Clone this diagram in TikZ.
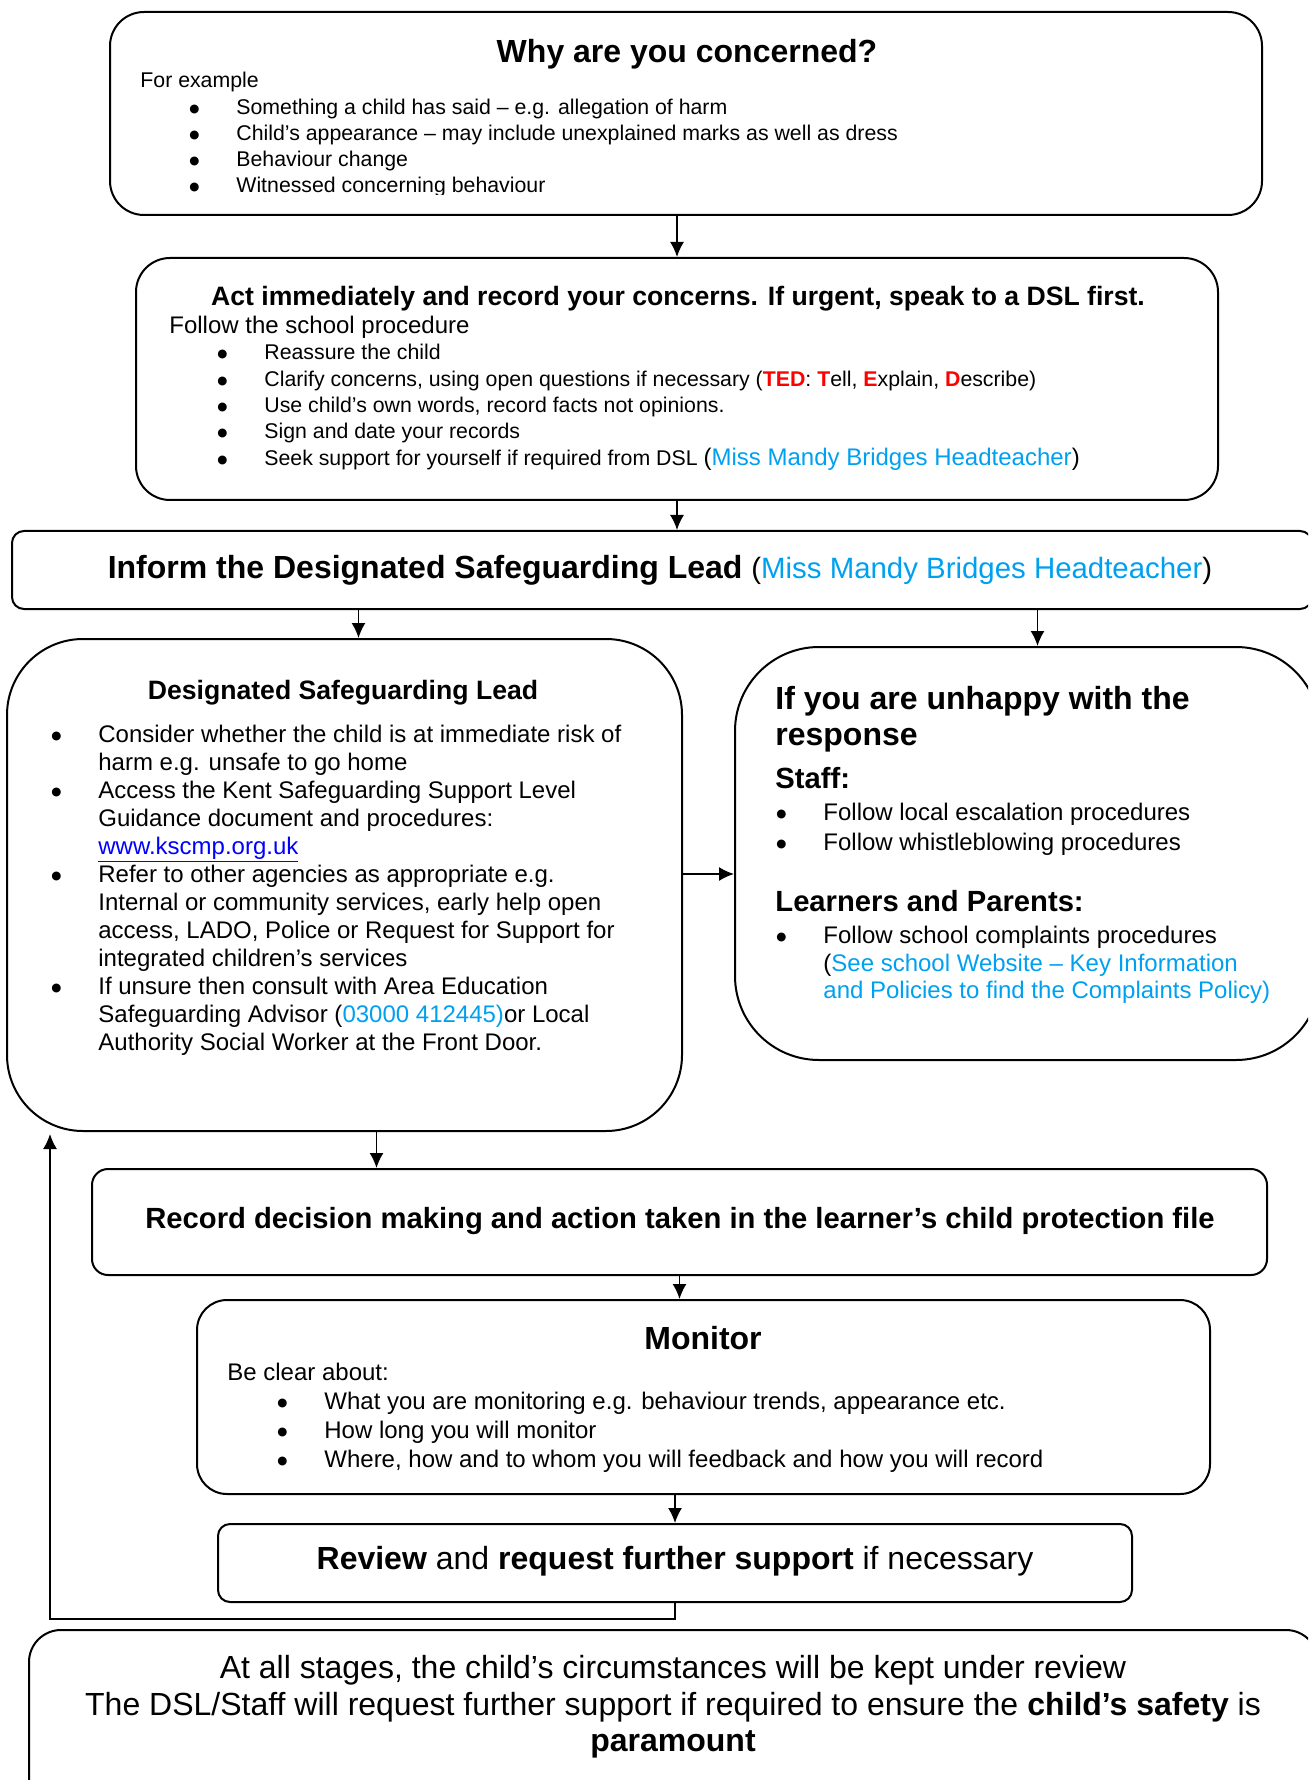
\documentclass[tikz,border=0pt]{standalone}
\usepackage{fontspec}
\setmainfont{Liberation Sans}
\newfontfamily\bulletfont{DejaVu Sans}
\usetikzlibrary{positioning, arrows.meta, fit}
\tikzset{>={Latex[length=7.5pt,width=7pt]}}
\definecolor{infoblue}{RGB}{0,160,240}
\definecolor{tedred}{RGB}{255,0,0}
\definecolor{linkblue}{RGB}{0,0,255}
\newcommand{\ted}[1]{\textcolor{tedred}{\textbf{#1}}}
\newcommand{\info}[1]{\textcolor{infoblue}{#1}}
\newcommand{\bigbullet}{\raisebox{1.4pt}{\bulletfont\fontsize{5.8}{6}\selectfont ●}}

\begin{document}
\begin{tikzpicture}[x=0.5pt,y=-0.5pt,
  box/.style={draw, line width=1pt, inner sep=0pt},
  txt/.style={anchor=base west, inner sep=0pt},
  mid/.style={anchor=base, inner sep=0pt},
  bul/.style={txt, execute at begin node={\makebox[23.5pt][l]{\bigbullet}}},
  arr/.style={->, line width=0.8pt},
  normaltext/.style={font=\fontsize{10.65}{13}\selectfont},
  largetext/.style={font=\fontsize{12}{14}\selectfont},
  bigtext/.style={font=\fontsize{16}{18.5}\selectfont},
  bigtitle/.style={font=\fontsize{16}{18.5}\selectfont\bfseries},
  midtitle/.style={font=\fontsize{13.3}{16}\selectfont\bfseries},
  boldlabel/.style={font=\fontsize{14.6}{17}\selectfont\bfseries}]
\useasboundingbox (0,0) rectangle (1308,1780);
\clip (0,0) rectangle (1308,1780);

% boxes
\node[box, rounded corners=17pt, fit={(110,12) (1262,215)}] (why) {};
\node[box, rounded corners=17pt, fit={(136,258) (1218,500)}] (act) {};
\node[box, rounded corners=6pt, fit={(12,531) (1312,609)}] (inform) {};
\node[box, rounded corners=38pt, fit={(7,639) (682,1131)}] (dsl) {};
\node[box, rounded corners=42pt, fit={(735,647) (1320,1060)}] (unhappy) {};
\node[box, rounded corners=8pt, fit={(92,1169) (1267,1275)}] (record) {};
\node[box, rounded corners=15pt, fit={(197,1300) (1210,1494)}] (monitor) {};
\node[box, rounded corners=6pt, fit={(218,1524) (1132,1602)}] (review) {};
\node[box, rounded corners=16pt, fit={(29,1630) (1318,1810)}] (note) {};

% why are you concerned
\node[mid, bigtitle] (whyt) at (687,63) {Why are you concerned?};
\node[txt, normaltext] (whye) at (140,88) {For example};
\node[bul, normaltext] (why1) at (189,115) {Something a child has said – e.g. allegation of harm};
\node[bul, normaltext] (why2) at (189,141) {Child’s appearance – may include unexplained marks as well as dress};
\node[bul, normaltext] (why3) at (189,167) {Behaviour change};
\begin{scope}
  \clip (0,0) rectangle (1308,195);
  \node[bul, normaltext] (why4) at (189,193) {Witnessed concerning behaviour};
\end{scope}

% act immediately
\node[mid, midtitle] (actt) at (678,306) {Act immediately and record your concerns. If urgent, speak to a DSL first.};
\node[txt, largetext] (actf) at (169,334) {Follow the school procedure};
\node[bul, normaltext] (act1) at (217,360) {Reassure the child};
\node[bul, normaltext] (act2) at (217,387) {Clarify concerns, using open questions if necessary (\ted{TED}: \ted{T}ell, \ted{E}xplain, \ted{D}escribe)};
\node[bul, normaltext] (act3) at (217,413) {Use child’s own words, record facts not opinions.};
\node[bul, normaltext] (act4) at (217,439) {Sign and date your records};
\node[bul, normaltext] (act5) at (217,466) {Seek support for yourself if required from DSL {\fontsize{12}{14}\selectfont(\info{Miss Mandy Bridges Headteacher})}};

% inform
\node[mid, bigtitle] (informt) at (660,578) {Inform the Designated Safeguarding Lead {\fontsize{14.7}{17}\selectfont\mdseries(\info{Miss Mandy Bridges Headteacher})}};

% designated safeguarding lead
\node[mid, midtitle] (dslt) at (343,699) {Designated Safeguarding Lead};
\node[bul, largetext] (dsl1) at (51,742) {Consider whether the child is at immediate risk of};
\node[txt, largetext] (dsl2) at (98,770) {harm e.g. unsafe to go home};
\node[bul, largetext] (dsl3) at (51,798) {Access the Kent Safeguarding Support Level};
\node[txt, largetext] (dsl4) at (98,826) {Guidance document and procedures:};
\node[txt, largetext] (dsl5) at (98,854) {\textcolor{linkblue}{\underline{www.kscmp.org.uk}}};
\node[bul, largetext] (dsl6) at (51,882) {Refer to other agencies as appropriate e.g.};
\node[txt, largetext] (dsl7) at (98,910) {Internal or community services, early help open};
\node[txt, largetext] (dsl8) at (98,938) {access, LADO, Police or Request for Support for};
\node[txt, largetext] (dsl9) at (98,966) {integrated children’s services};
\node[bul, largetext] (dsl10) at (51,994) {If unsure then consult with Area Education};
\node[txt, largetext] (dsl11) at (98,1022) {Safeguarding Advisor (\info{03000 412445)}or Local};
\node[txt, largetext] (dsl12) at (98,1050) {Authority Social Worker at the Front Door.};

% unhappy with the response
\node[txt, bigtitle] (unhappyt) at (775,709) {If you are unhappy with the};
\node[txt, bigtitle] (unhappyr) at (775,745) {response};
\node[txt, boldlabel] (staff) at (775,788) {Staff:};
\node[bul, largetext] (staff1) at (776,820) {Follow local escalation procedures};
\node[bul, largetext] (staff2) at (776,850) {Follow whistleblowing procedures};
\node[txt, boldlabel] (learners) at (775,911) {Learners and Parents:};
\node[bul, largetext] (learners1) at (776,943) {Follow school complaints procedures};
\node[txt, largetext] (learners2) at (823,971) {(\info{See school Website – Key Information}};
\node[txt, largetext] (learners3) at (823,998) {\info{and Policies to find the Complaints Policy)}};

% record
\node[mid, boldlabel] (recordt) at (680,1228) {Record decision making and action taken in the learner’s child protection file};

% monitor
\node[mid, bigtitle] (monitort) at (703,1349) {Monitor};
\node[txt, largetext] (monitorb) at (227,1380) {Be clear about:};
\node[bul, largetext] (monitor1) at (277,1409) {What you are monitoring e.g. behaviour trends, appearance etc.};
\node[bul, largetext] (monitor2) at (277,1438) {How long you will monitor};
\node[bul, largetext] (monitor3) at (277,1467) {Where, how and to whom you will feedback and how you will record};

% review
\node[mid, bigtext] (reviewt) at (675,1569) {\textbf{Review} and \textbf{request further support} if necessary};

% at all stages
\node[mid, bigtext] (note1) at (673,1678) {At all stages, the child’s circumstances will be kept under review};
\node[mid, bigtext] (note2) at (673,1715) {The DSL/Staff will request further support if required to ensure the \textbf{child’s safety} is};
\node[mid, bigtext] (note3) at (673,1751) {\textbf{paramount}};

% arrows
\coordinate (back) at (50,1134);
\draw[arr] (why.south -| act.north) -- (act.north);
\draw[arr] (act.south) -- (act.south |- inform.north);
\draw[arr] ([xshift=7pt]dsl.north |- inform.south) -- ([xshift=7pt]dsl.north);
\draw[arr] ([xshift=5pt]unhappy.north |- inform.south) -- ([xshift=5pt]unhappy.north);
\draw[arr] ([yshift=5.5pt]dsl.east) -- ([yshift=5.5pt]dsl.east -| unhappy.west);
\draw[arr] ([xshift=16pt]dsl.south) -- ([xshift=16pt]dsl.south |- record.north);
\draw[arr] (record.south) -- (record.south |- monitor.north);
\draw[arr] (review.north |- monitor.south) -- (review.north);
\draw[arr] (review.south) -- ++(0,16) -| (back);
\end{tikzpicture}
\end{document}
